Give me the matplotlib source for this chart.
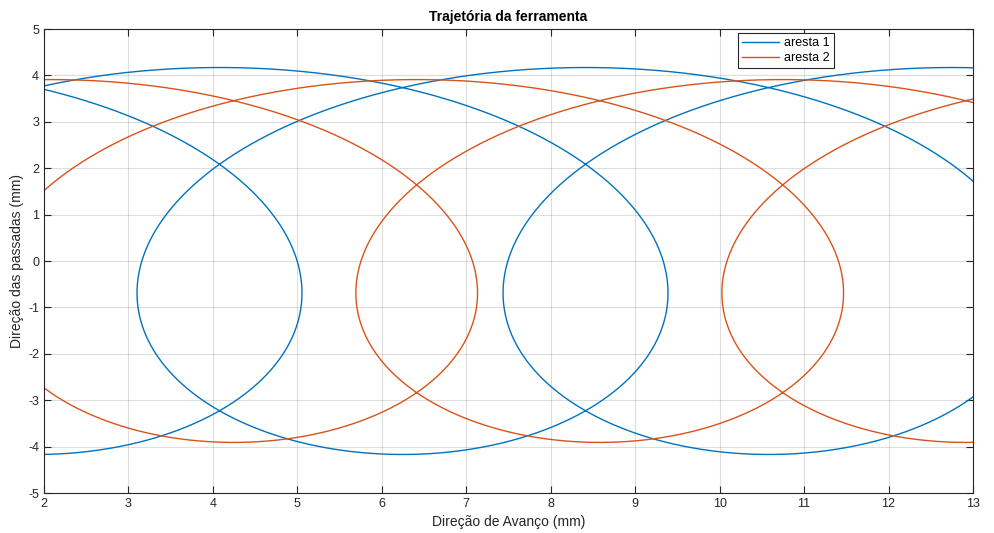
import numpy as np
import matplotlib
matplotlib.use("Agg")
import matplotlib.pyplot as plt

# Values (tool path of each cutting edge, trochoid)
edge_labels = ["aresta 1", "aresta 2"]
edge_radius = [4.17, 3.91]          # mm, half of vertical extent of each curve
edge_top_x = [4.078, 6.413]         # mm, x of a curve top (= centre of its loop)
edge_rev_start = [-2.0, -1.25]      # revolutions (relative to that top) where path starts
edge_rev_end = [2.03, 2.0]          # revolutions where path ends
feed_per_rev = 4.334                # mm, spacing between consecutive tops
edge_colors = ["#0072BD", "#D95319"]

x_ticks = list(range(2, 14))
y_ticks = list(range(-5, 6))

plt.rcParams['font.family'] = ['Liberation Sans', 'DejaVu Sans']
plt.rcParams['axes.unicode_minus'] = False

fig = plt.figure(figsize=(9.94, 5.33), dpi=100)
ax = fig.add_axes([44/994, 40/533, 929/994, 464/533])

a = feed_per_rev / (2*np.pi)
for lab, R, x0, r0, r1, c in zip(edge_labels, edge_radius, edge_top_x,
                                 edge_rev_start, edge_rev_end, edge_colors):
    t = np.linspace(2*np.pi*r0, 2*np.pi*r1, 5000)
    x = x0 + a*t + R*np.sin(t)
    y = R*np.cos(t)
    ax.plot(x, y, color=c, lw=1.0, label=lab)

ax.set_xlim(2, 13)
ax.set_ylim(-5, 5)
ax.set_xticks(x_ticks)
ax.set_yticks(y_ticks)
ax.grid(True, color=(0.15, 0.15, 0.15), alpha=0.15, lw=0.8)
ax.set_axisbelow(True)
edge = (0.15, 0.15, 0.15)
for s in ax.spines.values():
    s.set_color(edge)
    s.set_linewidth(0.8)
ax.tick_params(direction='in', top=True, right=True, length=5, width=0.8,
               colors=edge, labelsize=9, labelcolor=edge)

ax.set_title("Trajetória da ferramenta", fontsize=10, fontweight='bold',
             color='black', pad=6)
ax.set_xlabel("Direção de Avanço (mm)", fontsize=10, color=edge, labelpad=4)
ax.set_ylabel("Direção das passadas (mm)", fontsize=10, color=edge, labelpad=3)

leg = ax.legend(loc='upper left', bbox_to_anchor=(0.747, 0.991), fontsize=9,
                frameon=True, fancybox=False, edgecolor=edge, framealpha=1,
                handlelength=3.0, handletextpad=0.4, borderpad=0.3,
                labelspacing=0.25, borderaxespad=0)
leg.get_frame().set_linewidth(0.8)

fig.savefig("out.png", dpi=100)
